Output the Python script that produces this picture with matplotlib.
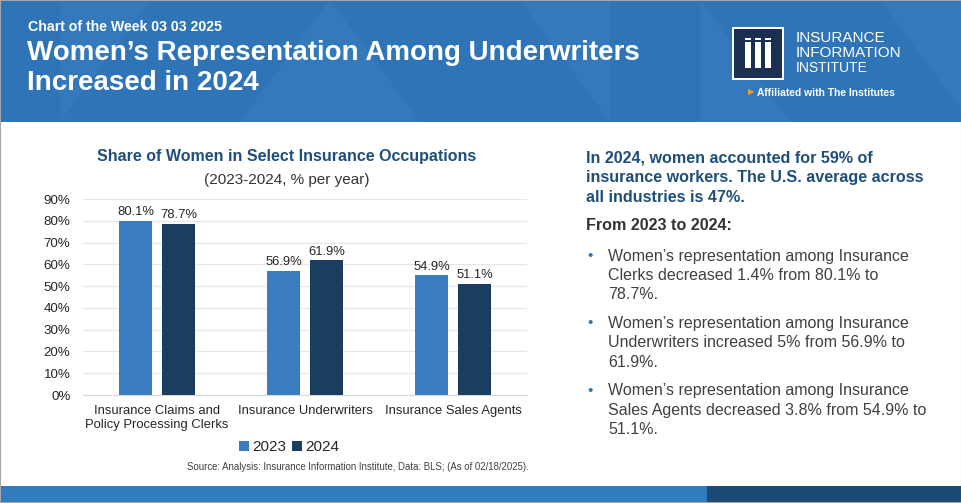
import matplotlib
matplotlib.use("Agg")
import matplotlib.pyplot as plt
from matplotlib.patches import Rectangle, Polygon
import numpy as np

categories = ["Insurance Claims and\nPolicy Processing Clerks", "Insurance Underwriters", "Insurance Sales Agents"]
years = ["2023", "2024"]
share_2023 = [80.1, 56.9, 54.9]
share_2024 = [78.7, 61.9, 51.1]
y_ticks = [0, 10, 20, 30, 40, 50, 60, 70, 80, 90]

W, H = 962, 503
plt.rcParams['font.family'] = ['Liberation Sans', 'DejaVu Sans']

fig = plt.figure(figsize=(W / 100, H / 100), dpi=100)
fig.set_facecolor('white')


def fx(x):
    return x / W


def fy(y):
    return 1 - y / H


def box(x0, y0, x1, y1, color, **kw):
    fig.patches.append(Rectangle((fx(x0), fy(y1)), fx(x1 - x0), (y1 - y0) / H,
                                 transform=fig.transFigure, facecolor=color,
                                 edgecolor='none', **kw))


# header band with faint triangles
box(0, 0, W, 122, '#2f74b6')
tri = [[(60, 0), (150, 0), (60, 122)], [(330, 0), (420, 122), (240, 122)],
       [(520, 0), (610, 0), (610, 122)], [(700, 0), (790, 122), (700, 122)],
       [(880, 0), (962, 0), (962, 110)]]
for t in tri:
    fig.patches.append(Polygon([(fx(a), fy(b)) for a, b in t], closed=True,
                               transform=fig.transFigure, facecolor='#3a7fc0',
                               edgecolor='none', alpha=0.5))

fig.text(fx(28), fy(27), "Chart of the Week 03 03 2025", color='white',
         fontsize=10.2, fontweight='bold', va='center', ha='left')
fig.text(fx(27), fy(53), "Women\u2019s Representation Among Underwriters", color='white',
         fontsize=20, fontweight='bold', va='center', ha='left')
fig.text(fx(27), fy(83), "Increased in 2024", color='white',
         fontsize=20, fontweight='bold', va='center', ha='left')

# logo
box(732, 27, 784, 80, 'white')
box(734, 29, 782, 78, '#1b3050')
for i in range(3):
    box(745 + i * 10, 42, 751 + i * 10, 68, 'white')
    box(745 + i * 10, 38, 751 + i * 10, 40, 'white')
fig.text(fx(796), fy(38), "INSURANCE", color='white', fontsize=11, va='center')
fig.text(fx(796), fy(53), "INFORMATION", color='white', fontsize=11, va='center')
fig.text(fx(796), fy(68), "INSTITUTE", color='white', fontsize=10, va='center')
fig.text(fx(748), fy(93), "\u25b6", color='#e8a030', fontsize=6, va='center')
fig.text(fx(757), fy(93), "Affiliated with The Institutes", color='white', fontsize=7.4,
         va='center', fontweight='bold')

# bottom band
box(0, 486, 707, H, '#327bbd')
box(707, 486, W, H, '#1b4a76')

# chart
ax = fig.add_axes([fx(83), fy(395), fx(527 - 83), (395 - 199) / H])
x = np.arange(len(categories))
off, bw = 0.145, 0.225
b1 = ax.bar(x - off, share_2023, bw, color='#3a7dc1', label=years[0], zorder=3)
b2 = ax.bar(x + off, share_2024, bw, color='#1b3d5f', label=years[1], zorder=3)
for bars, vals in ((b1, share_2023), (b2, share_2024)):
    for r, v in zip(bars, vals):
        ax.text(r.get_x() + r.get_width() / 2, v + 1.2, f"{v:.1f}%", ha='center',
                va='bottom', fontsize=9.4, color='#262626')

ax.set_xlim(-0.5, 2.5)
ax.set_ylim(0, 90)
ax.set_yticks(y_ticks)
ax.set_yticklabels([f"{t}%" for t in y_ticks], fontsize=9.6, color='#262626')
ax.set_xticks(x)
ax.set_xticklabels(categories, fontsize=9.4, color='#262626', linespacing=1.2)
ax.tick_params(length=0, pad=9)
ax.tick_params(axis='x', pad=7)
for s in ['top', 'right', 'left']:
    ax.spines[s].set_visible(False)
ax.spines['bottom'].set_color('#d9d9d9')
ax.grid(axis='y', color='#e6e6e6', linewidth=0.9, zorder=0)
ax.set_axisbelow(True)

fig.legend(handles=[b1, b2], labels=years, loc='center', bbox_to_anchor=(fx(289), fy(447)),
           ncol=2, frameon=False, fontsize=11, handlelength=0.65, handleheight=0.65,
           handletextpad=0.2, columnspacing=0.4, labelcolor='#262626')

fig.text(fx(287), fy(157), "Share of Women in Select Insurance Occupations", ha='center',
         va='center', fontsize=11.5, fontweight='bold', color='#1f4e79')
fig.text(fx(287), fy(180), "(2023-2024, % per year)", ha='center', va='center',
         fontsize=11, color='#333333')
fig.text(fx(529), fy(467), "Source: Analysis: Insurance Information Institute, Data: BLS; (As of 02/18/2025).",
         ha='right', va='center', fontsize=6.95, color='#404040')

# right panel text
for i, line in enumerate(["In 2024, women accounted for 59% of",
                          "insurance workers. The U.S. average across",
                          "all industries is 47%."]):
    fig.text(fx(586), fy(158 + 19.5 * i), line, ha='left', va='center', fontsize=11.6,
             fontweight='bold', color='#1f4e79')
fig.text(fx(586), fy(226), "From 2023 to 2024:", ha='left', va='center', fontsize=11.6,
         fontweight='bold', color='#333333')
bullets = [["Women\u2019s representation among Insurance", "Clerks decreased 1.4% from 80.1% to", "78.7%."],
           ["Women\u2019s representation among Insurance", "Underwriters increased 5% from 56.9% to", "61.9%."],
           ["Women\u2019s representation among Insurance", "Sales Agents decreased 3.8% from 54.9% to", "51.1%."]]
for j, lines in enumerate(bullets):
    y0 = 256 + 67.5 * j
    fig.text(fx(587), fy(y0), "\u2022", ha='left', va='center', fontsize=11, color='#2f74b6')
    for i, line in enumerate(lines):
        fig.text(fx(608), fy(y0 + 19.3 * i), line, ha='left', va='center', fontsize=11.5,
                 color='#404040')

# outer frame
fig.patches.append(Rectangle((0, 0), 1, 1, transform=fig.transFigure, fill=False,
                             edgecolor='#a6a6a6', linewidth=1.5))

fig.savefig("out.png", dpi=100)
